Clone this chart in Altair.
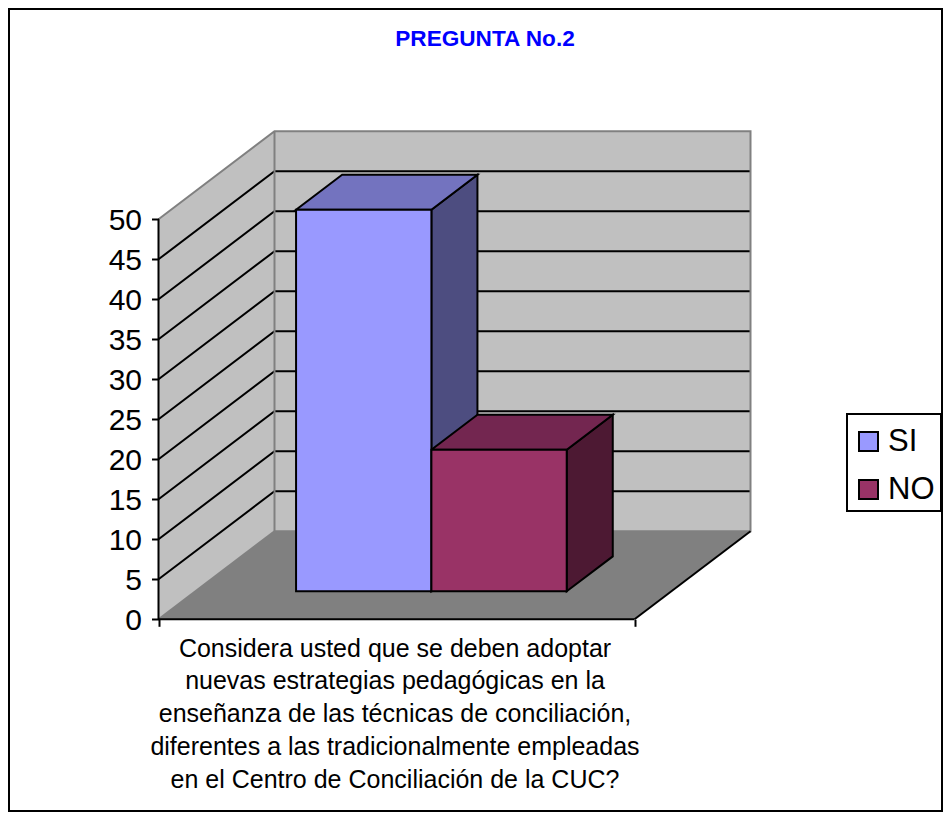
import altair as alt
import pandas as pd

# ---- chart values ----
categories = ["SI", "NO"]
values = [47.7, 17.7]
colors_front = ["#9999FF", "#993366"]
colors_top = ["#7373BF", "#732650"]
colors_side = ["#4D4D80", "#4D1933"]
ticks = list(range(0, 55, 5))
title_text = "PREGUNTA No.2"
category_label = ("Considera usted que se deben adoptar\n"
                  "nuevas estrategias pedagógicas en la\n"
                  "enseñanza de las técnicas de conciliación,\n"
                  "diferentes a las tradicionalmente empleadas\n"
                  "en el Centro de Conciliación de la CUC?")

# ---- 3D projection of (position along axis, depth, value) ----
ORIGIN_X, AXIS_LEN, DEPTH_X, DEPTH_V = 158.5, 476, 116, 11
Y0, PX_PER_UNIT = 619.3, 8
GAP, BAR_W, D0, D1 = 0.2115, 0.2843, 0.318, 0.715


def px(u, d):
    return ORIGIN_X + AXIS_LEN * u + DEPTH_X * d


def pv(v, d):
    return v + DEPTH_V * d


W, H = 933, 802
x_scale = alt.Scale(domain=[9, 9 + W], range=[0, W], nice=False, zero=False)
y_scale = alt.Scale(domain=[(Y0 - 9) / PX_PER_UNIT, (Y0 - 9 - H) / PX_PER_UNIT],
                    range=[0, H], nice=False, zero=False)

y_axis = alt.Axis(values=ticks, offset=-(ORIGIN_X - 9), domain=False, grid=False, title=None,
                  labelFont="Liberation Sans", labelFontSize=30, labelColor="#000000",
                  tickColor="#000000", tickWidth=2, tickSize=7, labelPadding=10, labelOffset=1,
                  labelFlush=False, labelOverlap=False, zindex=1)
x_axis = alt.Axis(values=[px(0, 0), px(1, 0)], offset=-(9 + H - Y0), domain=False, grid=False,
                  title=None, labels=False, tickColor="#000000", tickWidth=2, tickSize=7, zindex=1)


def X(f="x"):
    return alt.X(f"{f}:Q", scale=x_scale, axis=x_axis)


def Y(f="y"):
    return alt.Y(f"{f}:Q", scale=y_scale, axis=y_axis)


def vquad(points, fill, stroke=None, sw=2):
    """Quad with vertical edges: (u, d, v_low, v_high)."""
    df = pd.DataFrame([{"x": px(u, d), "y": pv(lo, d), "y2": pv(hi, d)} for u, d, lo, hi in points])
    kw = {"stroke": stroke, "strokeWidth": sw} if stroke else {}
    return alt.Chart(df).mark_area(fill=fill, **kw).encode(x=X(), y=Y(), y2="y2:Q")


def hquad(u0, u1, d0, d1, v, fill, stroke=None, sw=2):
    """Quad with horizontal edges, lying in the plane of value v."""
    df = pd.DataFrame([{"y": pv(v, d), "x": px(u0, d), "x2": px(u1, d)} for d in (d0, d1)])
    kw = {"stroke": stroke, "strokeWidth": sw} if stroke else {}
    return alt.Chart(df).mark_area(fill=fill, orient="horizontal", **kw).encode(
        y=Y(), x=X(), x2="x2:Q")


def polyline(rows, color, sw=2):
    df = pd.DataFrame(rows)
    return alt.Chart(df).mark_line(color=color, strokeWidth=sw).encode(
        x=X(), y=Y(), detail="g:N", order="o:Q")


layers = []
# walls and floor
layers.append(vquad([(0, 0, 0, 50), (0, 1, 0, 50)], "#C0C0C0"))
layers.append(vquad([(0, 1, 0, 50), (1, 1, 0, 50)], "#C0C0C0"))
layers.append(hquad(0, 1, 0, 1, 0, "#808080"))

# gridlines
grid_rows = []
for t in ticks[1:-1]:
    for o, (u, d) in enumerate([(0, 0), (0, 1), (1, 1)]):
        grid_rows.append({"x": px(u, d), "y": pv(t, d), "g": t, "o": o})
layers.append(polyline(grid_rows, "#000000", 2))

# grey wall edges
edge_rows = []
for g, pts in enumerate([
    [(0, 0, 50), (0, 1, 50), (1, 1, 50), (1, 1, 0), (0, 1, 0), (0, 1, 50)],
    [(0, 0, 0), (0, 1, 0)],
]):
    for o, (u, d, v) in enumerate(pts):
        edge_rows.append({"x": px(u, d), "y": pv(v, d), "g": g, "o": o})
layers.append(polyline(edge_rows, "#808080", 2))

# black floor edge on the right
layers.append(polyline([{"x": px(1, 0), "y": pv(0, 0), "g": 0, "o": 0},
                        {"x": px(1, 1), "y": pv(0, 1), "g": 0, "o": 1}], "#000000", 2))

# bars
front_rows = []
for i, (c, v) in enumerate(zip(categories, values)):
    u0, u1 = GAP + i * BAR_W, GAP + (i + 1) * BAR_W
    front_rows.append({"cat": c, "x": px(u0, D0), "x2": px(u1, D0), "y": pv(0, D0), "y2": pv(v, D0)})
    layers.append(vquad([(u1, D0, 0, v), (u1, D1, 0, v)], colors_side[i], "#000000"))
    layers.append(hquad(u0, u1, D0, D1, v, colors_top[i], "#000000"))

# legend box, behind the legend itself
legend_box = pd.DataFrame({"x": [847], "x2": [941], "y": [(Y0 - 414) / PX_PER_UNIT],
                           "y2": [(Y0 - 511) / PX_PER_UNIT]})
layers.append(alt.Chart(legend_box).mark_rect(fill="#FFFFFF", stroke="#000000", strokeWidth=2).encode(
    x=X(), x2="x2:Q", y=Y(), y2="y2:Q"))

legend = alt.Legend(
    title=None, orient="none", legendX=853 - 9, legendY=426 - 9,
    symbolType="square", symbolSize=361, symbolStrokeColor="#000000", symbolStrokeWidth=2,
    symbolOpacity=1, labelFont="Liberation Sans", labelFontSize=31, labelColor="#000000",
    labelLimit=200, padding=0, rowPadding=16, labelOffset=4,
)
for i in range(2):
    df = pd.DataFrame(front_rows[i:i + 1])
    layers.append(alt.Chart(df).mark_rect(stroke="#000000", strokeWidth=2).encode(
        x=X(), x2="x2:Q", y=Y(), y2="y2:Q",
        color=alt.Color("cat:N", scale=alt.Scale(domain=categories, range=colors_front),
                        legend=legend)))

# axes
axis_line = pd.DataFrame({"x": [px(0, 0)], "y": [0], "y2": [50]})
layers.append(alt.Chart(axis_line).mark_rule(color="#000000", strokeWidth=2).encode(
    x=X(), y=Y(), y2="y2:Q"))

base_line = pd.DataFrame({"x": [px(0, 0)], "x2": [px(1, 0)], "y": [0]})
layers.append(alt.Chart(base_line).mark_rule(color="#000000", strokeWidth=2).encode(
    x=X(), x2="x2:Q", y=Y()))

# category caption
caption = pd.DataFrame({"x": [395], "y": [(Y0 - 636.5) / PX_PER_UNIT], "t": [category_label]})
layers.append(alt.Chart(caption).mark_text(
    font="Liberation Sans", fontSize=25, color="#000000", align="center", baseline="top",
    lineBreak="\n", lineHeight=32.8).encode(x=X(), y=Y(), text="t:N"))

chart = alt.layer(*layers).properties(
    width=W, height=H,
    padding={"left": 1, "top": 1, "right": 1, "bottom": 1},
    autosize=alt.AutoSizeParams(type="none"),
    background="#FFFFFF",
    title=alt.TitleParams(title_text, font="Liberation Sans", fontSize=22.6, fontWeight="bold",
                          color="#0000FF", anchor="start", baseline="middle",
                          dx=476, dy=53, align="center", offset=0),
).configure_view(stroke="#000000", strokeWidth=2, fill="#FFFFFF")

chart.save("out.html", embed_options={"renderer": "svg", "actions": False})
